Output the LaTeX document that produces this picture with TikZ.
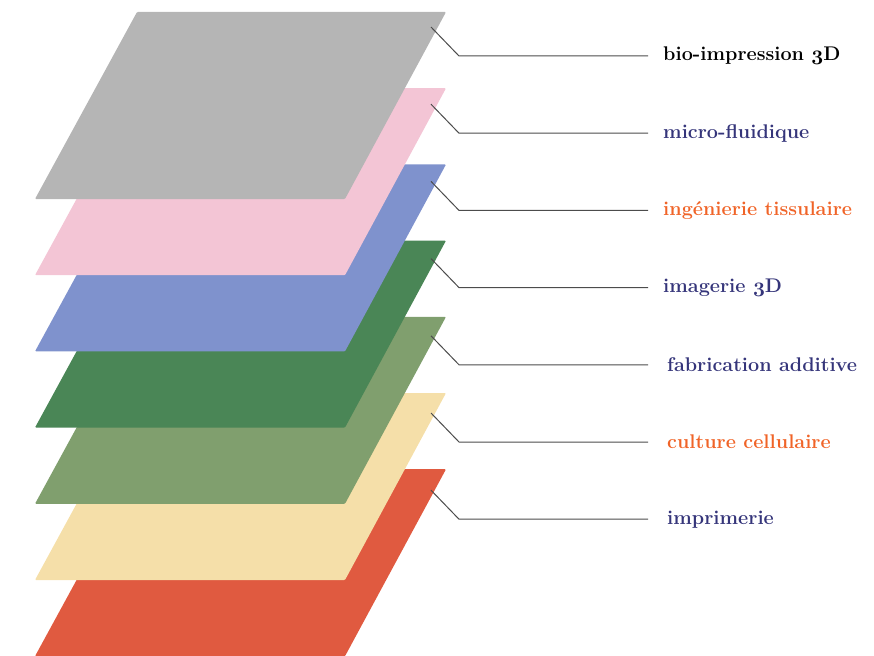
\documentclass[tikz,border=0pt]{standalone}
\usepackage{xcolor}

\definecolor{lgray}{HTML}{B5B5B5}
\definecolor{lpink}{HTML}{F3C5D5}
\definecolor{lblue}{HTML}{7F92CD}
\definecolor{lgreen}{HTML}{4A8656}
\definecolor{lolive}{HTML}{809F6E}
\definecolor{lbeige}{HTML}{F5DFA9}
\definecolor{lred}{HTML}{E05A40}
\definecolor{navy}{HTML}{35357A}
\definecolor{orng}{HTML}{F06428}

\newcommand{\oldthree}{{\usefont{OML}{cmm}{b}{it}3}}

\begin{document}
\begin{tikzpicture}[
		x=1pt, y=-1pt,
		layer/.style = {rounded corners=1pt},
		lead/.style = {draw=black!70, line width=1pt},
		lbl/.style = {anchor=west, inner sep=0pt, font=\bfseries\fontsize{19.8}{22}\selectfont}
	]
	\useasboundingbox (0,0) rectangle (874,655);

	% the stack, bottom layer first
	\foreach \i/\c in {6/lred,5/lbeige,4/lolive,3/lgreen,2/lblue,1/lpink,0/lgray} {
		\fill[layer, \c] (35,{199+76.2*\i}) -- (345,{199+76.2*\i})
			-- (446,{12+76.2*\i}) -- (137,{12+76.2*\i}) -- cycle;
	}

	% labels
	\foreach \i/\n/\col/\x/\txt in {
			0/bio/black/663/{bio-impression \oldthree D},
			1/micro/navy/663/{micro-fluidique},
			2/inge/orng/663/{ingénierie tissulaire},
			3/imag/navy/663/{imagerie \oldthree D},
			4/fab/navy/667/{fabrication additive},
			5/cult/orng/667/{culture cellulaire},
			6/impr/navy/667/{imprimerie}} {
		\coordinate (p\n) at (431,{27+77.2*\i});
		\coordinate (e\n) at (459,{56+77.2*\i});
		\node[lbl, text=\col] (\n) at (\x,{56+77.2*\i}) {\txt};
		\draw[lead] (p\n) -- (e\n) -- ([xshift={(648-\x)*1pt}]\n.west);
	}
\end{tikzpicture}
\end{document}
